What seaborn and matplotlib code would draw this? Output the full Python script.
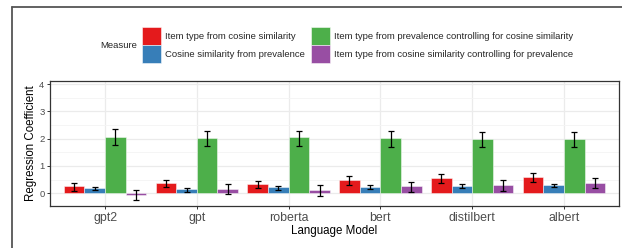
import matplotlib
matplotlib.use('Agg')
import matplotlib.pyplot as plt
from matplotlib.lines import Line2D
from matplotlib.patches import Patch
from matplotlib.ticker import MultipleLocator
import pandas as pd
import seaborn as sns

modelos = ['gpt2', 'gpt', 'roberta', 'bert', 'distilbert', 'albert']
medidas = [
    'Item type from cosine similarity',
    'Cosine similarity from prevalence',
    'Item type from prevalence controlling for cosine similarity',
    'Item type from cosine similarity controlling for prevalence',
]
cores = ['#E41A1C', '#377EB8', '#4DAF4A', '#984EA3']

item_cos = [0.25, 0.37, 0.34, 0.48, 0.56, 0.60]
item_cos_lo = [0.07, 0.22, 0.18, 0.30, 0.38, 0.43]
item_cos_hi = [0.37, 0.50, 0.46, 0.62, 0.71, 0.73]

cos_prev = [0.19, 0.15, 0.23, 0.23, 0.27, 0.29]
cos_prev_lo = [0.11, 0.05, 0.13, 0.15, 0.18, 0.22]
cos_prev_hi = [0.24, 0.21, 0.28, 0.29, 0.33, 0.35]

item_prev_ctrl = [2.07, 2.01, 2.05, 2.01, 2.00, 2.00]
item_prev_ctrl_lo = [1.77, 1.72, 1.73, 1.71, 1.70, 1.70]
item_prev_ctrl_hi = [2.34, 2.28, 2.29, 2.28, 2.26, 2.26]

item_cos_ctrl = [-0.07, 0.17, 0.12, 0.26, 0.30, 0.39]
item_cos_ctrl_lo = [-0.23, -0.03, -0.11, 0.04, 0.10, 0.18]
item_cos_ctrl_hi = [0.12, 0.33, 0.29, 0.42, 0.48, 0.56]

valores = [item_cos, cos_prev, item_prev_ctrl, item_cos_ctrl]
baixos = [item_cos_lo, cos_prev_lo, item_prev_ctrl_lo, item_cos_ctrl_lo]
altos = [item_cos_hi, cos_prev_hi, item_prev_ctrl_hi, item_cos_ctrl_hi]

linhas = []
for m, vals, lo, hi in zip(medidas, valores, baixos, altos):
  for modelo, v, a, b in zip(modelos, vals, lo, hi):
    linhas.append({'Model': modelo, 'Measure': m, 'Coef': v, 'lo': a, 'hi': b})
df = pd.DataFrame(linhas)

sns.set_theme(style='white')
plt.rcParams['font.family'] = ['Liberation Sans', 'DejaVu Sans']

W, H = 622, 248
fig = plt.figure(figsize=(W / 100, H / 100), dpi=100)
ax = fig.add_axes([50 / W, (H - 206) / H, 569 / W, 125 / H])

sns.barplot(
    data=df, x='Model', y='Coef', hue='Measure', order=modelos,
    hue_order=medidas, palette=cores, saturation=1, errorbar=None,
    width=0.9, gap=0, edgecolor=(1, 1, 1, 0.55), linewidth=0.6,
    legend=False, ax=ax,
)

# barras de erro em cima de cada barra
for cont, m in zip(ax.containers, medidas):
  sub = df[df['Measure'] == m].set_index('Model').loc[modelos]
  xs = [b.get_x() + b.get_width() / 2 for b in cont]
  ax.errorbar(
      xs, sub['Coef'], yerr=[sub['Coef'] - sub['lo'], sub['hi'] - sub['Coef']],
      fmt='none', ecolor='black', elinewidth=0.9, capsize=2.3, capthick=0.9,
      zorder=5,
  )

ax.set_xlim(-0.6, 5.6)
ax.set_ylim(-0.465, 4.11)
ax.yaxis.set_major_locator(MultipleLocator(1))
ax.yaxis.set_minor_locator(MultipleLocator(0.5))
ax.set_axisbelow(True)
ax.grid(which='major', color='#EBEBEB', linewidth=0.9)
ax.grid(which='minor', axis='y', color='#F4F4F4', linewidth=0.6)
for s in ax.spines.values():
  s.set_color('#333333')
  s.set_linewidth(0.9)

ax.tick_params(axis='both', which='major', length=2.5, width=0.7,
               color='#333333', direction='out', pad=1.5)
ax.tick_params(axis='both', which='minor', length=0)
ax.tick_params(axis='x', labelsize=8.9, labelcolor='#4D4D4D', bottom=True)
ax.tick_params(axis='y', labelsize=6.8, labelcolor='#4D4D4D', left=True)

ax.set_xlabel('Language Model', fontsize=8.3, color='black', labelpad=1)
ax.set_ylabel('Regression Coefficient', fontsize=8.3, color='black', labelpad=1.5)

handles = [Patch(facecolor=c, edgecolor=(1, 1, 1, 0.6), linewidth=0.6) for c in cores]
fig.legend(
    handles, medidas, loc='upper left', bbox_to_anchor=(142 / W, 1 - 27 / H),
    ncol=2, frameon=False, fontsize=6.8, handlelength=2.0, handleheight=2.56,
    labelspacing=0.0, handletextpad=0.42, columnspacing=0.7, borderpad=0,
    borderaxespad=0,
)
fig.text(100 / W, 1 - 45 / H, 'Measure', fontsize=6.8, ha='left', va='center')

# moldura externa da figura
fig.add_artist(Line2D([12 / W, 12 / W], [0, 1 - 7 / H], transform=fig.transFigure,
                      color='#555555', linewidth=1.3))
fig.add_artist(Line2D([12 / W, 1], [1 - 7 / H, 1 - 7 / H], transform=fig.transFigure,
                      color='#555555', linewidth=1.3))

fig.savefig('out.png', dpi=100, facecolor='white')
